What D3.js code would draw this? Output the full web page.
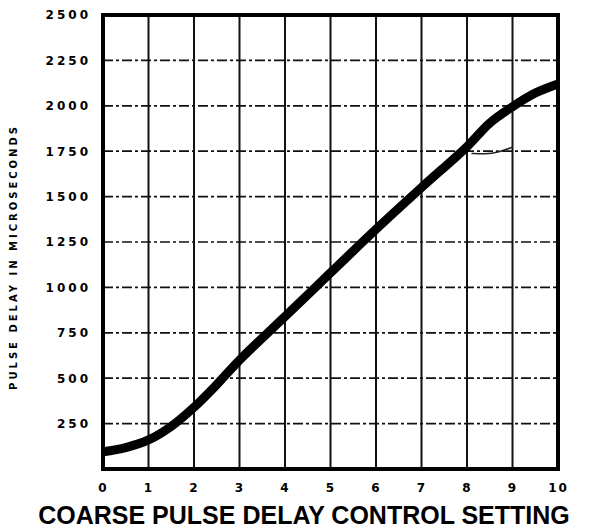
<!DOCTYPE html>
<html>
<head>
<meta charset="utf-8">
<script src="https://cdn.jsdelivr.net/npm/d3@7"></script>
<style>
  body { margin: 0; background: #fff; }
  svg { display: block; }
</style>
</head>
<body>
<div id="chart"></div>
<script>
// values
var settings = [0, 0.5, 1, 1.5, 2, 2.5, 3, 4, 5, 6, 7, 8, 8.5, 9, 9.5, 10];
var delays = [95, 118, 160, 235, 340, 465, 600, 840, 1080, 1320, 1550, 1775, 1905, 1995, 2070, 2120];
var xTicks = [0, 1, 2, 3, 4, 5, 6, 7, 8, 9, 10];
var yTicks = [250, 500, 750, 1000, 1250, 1500, 1750, 2000, 2250, 2500];
// small pencil mark near the 1750 line
var markX = [8.1, 8.4, 8.7, 9.0];
var markY = [1738, 1733, 1745, 1772];

var svgWidth = 596;
var svgHeight = 529;
var margin = { top: 15, right: 38, bottom: 60, left: 103 };
var width = svgWidth - margin.left - margin.right;
var height = svgHeight - margin.top - margin.bottom;

var svg = d3.select("#chart")
  .append("svg")
  .attr("width", svgWidth)
  .attr("height", svgHeight);

var chartGroup = svg.append("g")
  .attr("transform", `translate(${margin.left}, ${margin.top})`);

var x = d3.scaleLinear().domain([0, 10]).range([0, width]);
var y = d3.scaleLinear().domain([0, 2500]).range([height, 0]);

// grid: vertical solid, horizontal dashed
chartGroup.selectAll(".vgrid")
  .data(xTicks.slice(1, -1))
  .enter().append("line")
  .attr("x1", d => x(d)).attr("x2", d => x(d))
  .attr("y1", 0).attr("y2", height)
  .attr("stroke", "#111")
  .attr("stroke-width", 2);

chartGroup.selectAll(".hgrid")
  .data(yTicks.slice(0, -1))
  .enter().append("line")
  .attr("x1", 0).attr("x2", width)
  .attr("y1", d => y(d)).attr("y2", d => y(d))
  .attr("stroke", "#111")
  .attr("stroke-width", 1.7)
  .attr("stroke-dasharray", "10,3,3,3");

// frame
chartGroup.append("rect")
  .attr("x", 0).attr("y", 0)
  .attr("width", width).attr("height", height)
  .attr("fill", "none")
  .attr("stroke", "#000")
  .attr("stroke-width", 4);

// tick labels
var bottomAxis = d3.axisBottom(x).tickValues(xTicks).tickSize(0).tickPadding(12).tickFormat(d3.format("d"));
var leftAxis = d3.axisLeft(y).tickValues(yTicks).tickSize(0).tickPadding(12).tickFormat(d3.format("d"));

var gx = chartGroup.append("g")
  .attr("transform", `translate(0,${height})`)
  .call(bottomAxis);
var gy = chartGroup.append("g").call(leftAxis);

[gx, gy].forEach(function(g) {
  g.select(".domain").remove();
  g.selectAll("text")
    .attr("font-family", "DejaVu Sans")
    .attr("font-weight", "bold")
    .attr("font-size", 12)
    .attr("fill", "#000");
});
gy.selectAll("text")
  .attr("letter-spacing", "3px");
gx.selectAll("text").attr("dy", "0.9em").attr("letter-spacing", "2px");

// curve
var line = d3.line()
  .x((d, i) => x(settings[i]))
  .y(d => y(d))
  .curve(d3.curveCatmullRom.alpha(0.5));

chartGroup.append("path")
  .datum(delays)
  .attr("d", line)
  .attr("fill", "none")
  .attr("stroke", "#000")
  .attr("stroke-width", 9)
  .attr("stroke-linecap", "butt");

var markLine = d3.line()
  .x((d, i) => x(markX[i]))
  .y(d => y(d))
  .curve(d3.curveBasis);

chartGroup.append("path")
  .datum(markY)
  .attr("d", markLine)
  .attr("fill", "none")
  .attr("stroke", "#222")
  .attr("stroke-width", 1.5);

// axis titles
svg.append("text")
  .attr("transform", `translate(17, ${margin.top + height / 2 + 15}) rotate(-90)`)
  .attr("text-anchor", "middle")
  .attr("font-family", "DejaVu Sans")
  .attr("font-weight", "bold")
  .attr("font-size", 10)
  .attr("letter-spacing", "3px")
  .text("PULSE DELAY IN MICROSECONDS");

svg.append("text")
  .attr("x", 304)
  .attr("y", 524)
  .attr("text-anchor", "middle")
  .attr("font-family", "Liberation Sans, Arial, sans-serif")
  .attr("font-weight", "bold")
  .attr("font-size", 25)
  .text("COARSE PULSE DELAY CONTROL SETTING");
</script>
</body>
</html>
